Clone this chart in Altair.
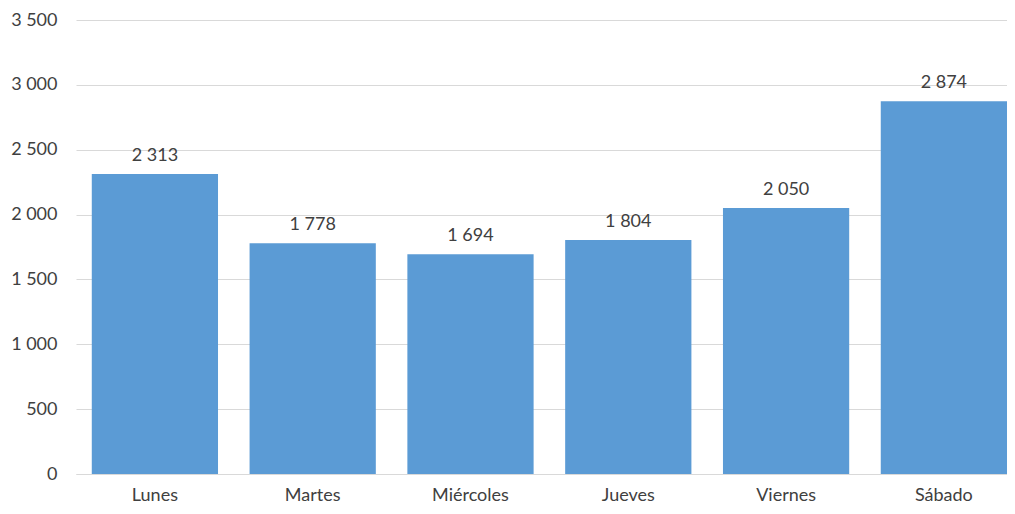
import altair as alt
import pandas as pd

dias = ["Lunes", "Martes", "Miércoles", "Jueves", "Viernes", "Sábado"]
valores = [2313, 1778, 1694, 1804, 2050, 2874]

df = pd.DataFrame({"dia": dias, "valor": valores})

FONT = "Lato"
TXT = "#404040"

base = alt.Chart(df).encode(
    x=alt.X("dia:N", sort=dias, title=None,
            scale=alt.Scale(paddingInner=0.2, paddingOuter=0.05, align=1),
            axis=alt.Axis(labelAngle=0, ticks=False, labelPadding=12,
                          labelFontSize=18, labelColor=TXT, labelFont=FONT,
                          domainColor="#D9D9D9", domainWidth=1)),
    y=alt.Y("valor:Q", title=None,
            scale=alt.Scale(domain=[0, 3500], nice=False),
            axis=alt.Axis(values=[0, 500, 1000, 1500, 2000, 2500, 3000, 3500],
                          ticks=False, domain=False, labelPadding=19,
                          labelFontSize=18, labelColor=TXT, labelFont=FONT,
                          gridColor="#D9D9D9", gridWidth=1,
                          labelExpr="replace(format(datum.value, ','), ',', ' ')")),
)

bars = base.mark_bar(color="#5B9BD5")

labels = base.transform_calculate(
    lab="replace(format(datum.valor, ','), ',', ' ')"
).mark_text(baseline="bottom", dy=-9, fontSize=18, color=TXT, font=FONT).encode(
    text="lab:N"
)

chart = (bars + labels).properties(
    width=931, height=454,
    padding={"left": 68, "top": 12, "right": 0, "bottom": 32},
    autosize=alt.AutoSizeParams(type="none"),
).configure_view(stroke=None)

chart.save("out.html", embed_options={"renderer": "svg", "actions": False})
